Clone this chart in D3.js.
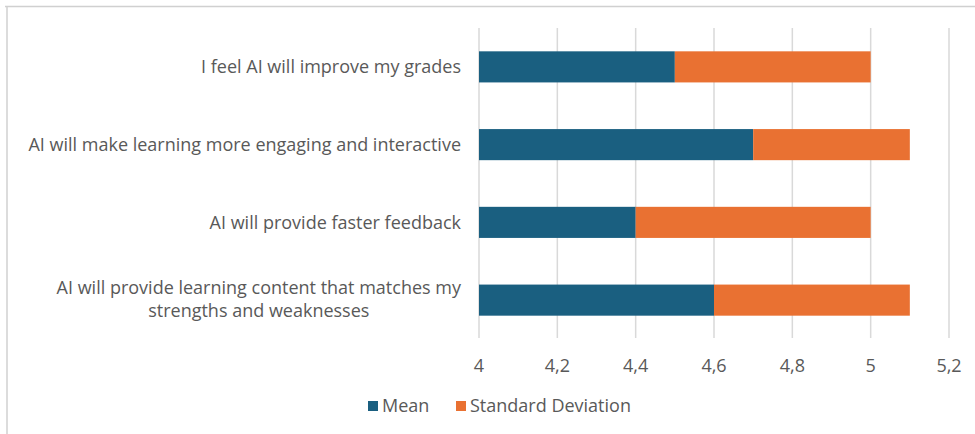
<!DOCTYPE html>
<html><head><meta charset="utf-8">
<script src="https://cdn.jsdelivr.net/npm/d3@7"></script>
<style>body{margin:0;background:#fff}svg{display:block}text{font-family:"Open Sans",sans-serif;fill:#595959}</style>
</head><body><svg id="c" width="975" height="434"></svg>
<script>
const categories = [
  ["I feel AI will improve my grades"],
  ["AI will make learning more engaging and interactive"],
  ["AI will provide faster feedback"],
  ["AI will provide learning content that matches my", "strengths and weaknesses"]
];
const meanValues = [4.5, 4.7, 4.4, 4.6];
const sdValues = [0.5, 0.4, 0.6, 0.5];
const tickValues = [4, 4.2, 4.4, 4.6, 4.8, 5, 5.2];
const seriesNames = ["Mean", "Standard Deviation"];
const colors = ["#1a5f80", "#e97132"];

const svg = d3.select("#c");
// frame
svg.append("line").attr("x1",5).attr("x2",975).attr("y1",6.5).attr("y2",6.5).attr("stroke","#d0d0d0").attr("stroke-width",1.5);
svg.append("line").attr("x1",7).attr("x2",7).attr("y1",6).attr("y2",434).attr("stroke","#d0d0d0").attr("stroke-width",1.5);

const x = d3.scaleLinear().domain([4, 5.2]).range([479, 949]);
const y = d3.scaleBand().domain(d3.range(categories.length)).range([28, 339]).paddingInner(0.6).paddingOuter(0.3);

// grid
svg.append("g").selectAll("line").data(tickValues).join("line")
  .attr("x1", d => x(d)).attr("x2", d => x(d)).attr("y1", 28).attr("y2", 338)
  .attr("stroke", "#d9d9d9").attr("stroke-width", 1.5);

const fs = "18px";
const fmt = d => String(d).replace(".", ",");
svg.append("g").selectAll("text").data(tickValues).join("text")
  .attr("x", d => x(d)).attr("y", 366).attr("dy", "0.35em").attr("text-anchor", "middle")
  .style("font-size", fs).text(fmt);

// bars
const stackData = categories.map((c, i) => ({i, mean: meanValues[i], sd: sdValues[i]}));
const g = svg.append("g");
g.selectAll("rect.mean").data(stackData).join("rect").attr("class","mean")
  .attr("x", x(4)).attr("y", d => y(d.i)).attr("height", y.bandwidth())
  .attr("width", d => x(d.mean) - x(4)).attr("fill", colors[0]);
g.selectAll("rect.sd").data(stackData).join("rect").attr("class","sd")
  .attr("x", d => x(d.mean)).attr("y", d => y(d.i)).attr("height", y.bandwidth())
  .attr("width", d => x(d.mean + d.sd) - x(d.mean)).attr("fill", colors[1]);

// category labels
const labelRight = 461;
categories.forEach((lines, i) => {
  const cy = y(i) + y.bandwidth() / 2;
  if (lines.length === 1) {
    svg.append("text").attr("x", labelRight).attr("y", cy).attr("dy", "0.35em")
      .attr("text-anchor", "end").style("font-size", fs).text(lines[0]);
  } else {
    const t = svg.append("text").style("font-size", fs).attr("text-anchor", "middle");
    const tmp = svg.append("text").style("font-size", fs).text(lines[0]);
    const w = tmp.node().getComputedTextLength(); tmp.remove();
    const cx = labelRight - w / 2;
    const lh = 23;
    lines.forEach((ln, k) => {
      t.append("tspan").attr("x", cx).attr("y", cy + (k - (lines.length - 1) / 2) * lh - 1).attr("dy", "0.35em").text(ln);
    });
  }
});

// legend
const legendItems = [{name: seriesNames[0], x: 368}, {name: seriesNames[1], x: 456}];
const lg = svg.append("g");
legendItems.forEach((d, i) => {
  lg.append("rect").attr("x", d.x).attr("y", 401).attr("width", 10).attr("height", 10).attr("fill", colors[i]);
  lg.append("text").attr("x", d.x + 14).attr("y", 406).attr("dy", "0.35em").style("font-size", fs).text(d.name);
});
</script></body></html>
